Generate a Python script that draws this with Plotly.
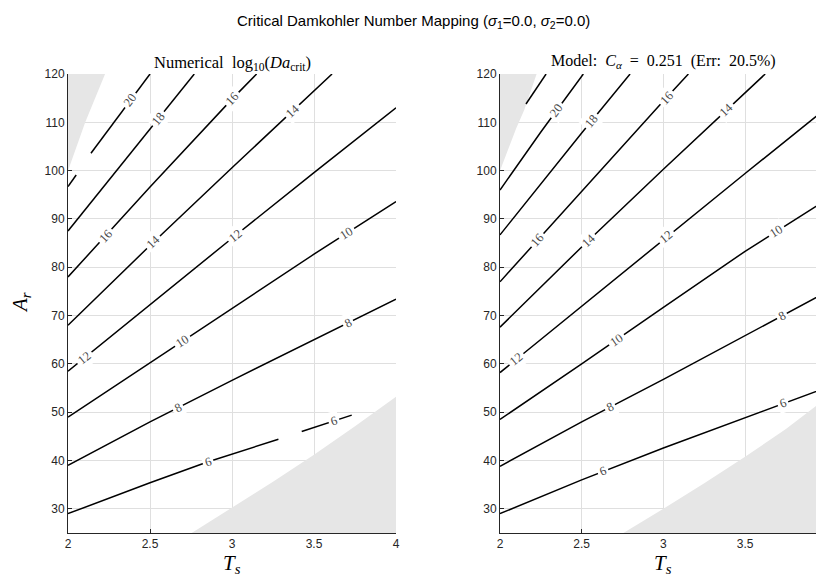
import math
import numpy as np
import plotly.graph_objects as go

# ---------------- data ----------------
TS_TICKS = [2, 2.5, 3, 3.5, 4]
TS_TICK_TEXT = ["2", "2.5", "3", "3.5", "4"]
AR_TICKS = [30, 40, 50, 60, 70, 80, 90, 100, 110, 120]
AR_TICK_TEXT = [str(v) for v in AR_TICKS]

# Numerical log10(Da_crit) contour lines (None = break in the line)
NUM_6_TS = [2.0, 2.5, 2.85, 3.283, None, 3.425, 3.73]
NUM_6_AR = [29.0, 35.4, 39.7, 44.4, None, 46.0, 49.4]
NUM_8_TS = [2.0, 2.5, 3.0, 3.5, 4.0]
NUM_8_AR = [39.0, 48.0, 56.6, 65.0, 73.4]
NUM_10_TS = [2.0, 2.5, 3.0, 3.5, 4.0]
NUM_10_AR = [49.0, 60.2, 71.5, 82.7, 93.6]
NUM_12_TS = [2.0, 2.5, 3.0, 3.5, 4.0]
NUM_12_AR = [58.5, 72.3, 86.0, 99.6, 113.0]
NUM_14_TS = [2.0, 2.5, 3.0, 3.5, 3.61]
NUM_14_AR = [68.0, 84.5, 100.6, 116.5, 120.0]
NUM_16_TS = [2.0, 2.5, 3.0, 3.15]
NUM_16_AR = [78.0, 96.6, 114.8, 120.0]
NUM_18_TS = [2.0, 2.5, 2.77]
NUM_18_AR = [87.5, 108.6, 120.0]
NUM_20_TS = [2.0, 2.05, None, 2.14, 2.5]
NUM_20_AR = [96.7, 99.1, None, 103.6, 120.0]

NUM_LEVELS = [6, 8, 10, 12, 14, 16, 18, 20]
NUM_LINES_TS = [NUM_6_TS, NUM_8_TS, NUM_10_TS, NUM_12_TS, NUM_14_TS, NUM_16_TS, NUM_18_TS, NUM_20_TS]
NUM_LINES_AR = [NUM_6_AR, NUM_8_AR, NUM_10_AR, NUM_12_AR, NUM_14_AR, NUM_16_AR, NUM_18_AR, NUM_20_AR]
NUM_LABEL_TS = [[2.854, 3.62], [2.67, 3.71], [2.70, 3.70], [2.10, 3.02],
                [2.52, 3.37], [2.23, 3.0], [2.55], [2.38]]

# Model contour lines
MOD_6_TS = [2.0, 2.5, 3.0, 3.5, 4.0]
MOD_6_AR = [29.0, 36.0, 42.6, 48.9, 55.1]
MOD_8_TS = [2.0, 2.5, 3.0, 3.5, 4.0]
MOD_8_AR = [38.8, 48.0, 56.8, 65.8, 74.9]
MOD_10_TS = [2.0, 2.5, 3.0, 3.5, 4.0]
MOD_10_AR = [48.5, 60.0, 71.7, 83.3, 94.0]
MOD_12_TS = [2.0, 2.5, 3.0, 3.5, 4.0]
MOD_12_AR = [58.2, 72.0, 85.8, 99.4, 113.0]
MOD_14_TS = [2.0, 2.5, 3.0, 3.5, 3.623]
MOD_14_AR = [67.6, 84.2, 100.3, 116.2, 120.0]
MOD_16_TS = [2.0, 2.5, 3.0, 3.153]
MOD_16_AR = [77.0, 95.8, 114.4, 120.0]
MOD_18_TS = [2.0, 2.5, 2.796]
MOD_18_AR = [86.7, 107.8, 120.0]
MOD_20_TS = [2.0, 2.25, 2.51]
MOD_20_AR = [96.0, 108.0, 120.0]
MOD_22_TS = [2.159, 2.282]
MOD_22_AR = [113.8, 120.0]

MOD_LEVELS = [6, 8, 10, 12, 14, 16, 18, 20, 22]
MOD_LINES_TS = [MOD_6_TS, MOD_8_TS, MOD_10_TS, MOD_12_TS, MOD_14_TS, MOD_16_TS, MOD_18_TS, MOD_20_TS, MOD_22_TS]
MOD_LINES_AR = [MOD_6_AR, MOD_8_AR, MOD_10_AR, MOD_12_AR, MOD_14_AR, MOD_16_AR, MOD_18_AR, MOD_20_AR, MOD_22_AR]
MOD_LABEL_TS = [[2.633, 3.735], [2.674, 3.725], [2.714, 3.694], [2.10, 3.016],
                [2.54, 3.384], [2.229, 3.02], [2.56], [2.347], []]

# Invalid (NaN) regions, shown in light gray
NUM_NAN_TOP_TS = [2.0, 2.105, 2.226, 2.0]
NUM_NAN_TOP_AR = [100.0, 110.0, 120.0, 120.0]
NUM_NAN_BOT_TS = [2.754, 3.0, 3.25, 3.5, 3.75, 4.0, 4.0]
NUM_NAN_BOT_AR = [25.0, 30.3, 35.6, 41.2, 47.1, 53.2, 25.0]
MOD_NAN_TOP_TS = [2.0, 2.05, 2.10, 2.149, 2.224, 2.0]
MOD_NAN_TOP_AR = [100.0, 104.5, 108.8, 112.6, 120.0, 120.0]
MOD_NAN_BOT_TS = [2.755, 3.0, 3.25, 3.5, 3.75, 4.0, 4.0]
MOD_NAN_BOT_AR = [25.0, 30.0, 35.3, 40.8, 46.5, 53.0, 25.0]

# ---------------- layout geometry ----------------
# The page body has an 8 px margin, so the figure starts at (8, 8).
OFF = 8
W, H = 824 - OFF, 578 - OFF


def fx(px):
    return (px - OFF) / W


def fy(py):
    return 1 - (py - OFF) / H


X1_DOM = [fx(68), fx(396)]
X2_DOM = [fx(500), 1.0]
Y_DOM = [fy(533), fy(74)]
X1_RANGE = [2, 4]
X2_RANGE = [2, 3.983]
Y_RANGE = [25, 120]

AX_COLOR = "#262626"
GRID_COLOR = "#dfdfdf"
NAN_COLOR = "#e6e6e6"
SANS = "Liberation Sans, Arial, sans-serif"
SERIF = "Liberation Serif, Times New Roman, serif"

fig = go.Figure()


def add_panel(lines_ts, lines_ar, nan_sets, xa, ya):
    for ts, ar in nan_sets:
        fig.add_trace(go.Scatter(x=ts, y=ar, mode="lines", fill="toself",
                                 fillcolor=NAN_COLOR, line=dict(width=0, color=NAN_COLOR),
                                 hoverinfo="skip", showlegend=False, xaxis=xa, yaxis=ya))
    for ts, ar in zip(lines_ts, lines_ar):
        fig.add_trace(go.Scatter(x=ts, y=ar, mode="lines", connectgaps=False,
                                 line=dict(color="black", width=1.5),
                                 hoverinfo="skip", showlegend=False, xaxis=xa, yaxis=ya))


add_panel(NUM_LINES_TS, NUM_LINES_AR,
          [(NUM_NAN_TOP_TS, NUM_NAN_TOP_AR), (NUM_NAN_BOT_TS, NUM_NAN_BOT_AR)], "x", "y")
add_panel(MOD_LINES_TS, MOD_LINES_AR,
          [(MOD_NAN_TOP_TS, MOD_NAN_TOP_AR), (MOD_NAN_BOT_TS, MOD_NAN_BOT_AR)], "x2", "y2")


def segments(ts, ar):
    segs, cur_t, cur_a = [], [], []
    for t, a in zip(ts, ar):
        if t is None:
            if cur_t:
                segs.append((cur_t, cur_a))
            cur_t, cur_a = [], []
        else:
            cur_t.append(t)
            cur_a.append(a)
    if cur_t:
        segs.append((cur_t, cur_a))
    return segs


annotations = []


def add_labels(levels, lines_ts, lines_ar, label_ts, xdom, xrange, xref, yref):
    px_x = (xdom[1] - xdom[0]) * W / (xrange[1] - xrange[0])
    px_y = (Y_DOM[1] - Y_DOM[0]) * H / (Y_RANGE[1] - Y_RANGE[0])
    for lev, ts, ar, lts in zip(levels, lines_ts, lines_ar, label_ts):
        segs = segments(ts, ar)
        for t0 in lts:
            for st, sa in segs:
                if st[0] <= t0 <= st[-1]:
                    a0 = float(np.interp(t0, st, sa))
                    i = max(1, int(np.searchsorted(st, t0)))
                    i = min(i, len(st) - 1)
                    dt = (st[i] - st[i - 1]) * px_x
                    da = (sa[i] - sa[i - 1]) * px_y
                    ang = -math.degrees(math.atan2(da, dt))
                    annotations.append(dict(
                        x=t0, y=a0, xref=xref, yref=yref, text=str(lev), showarrow=False,
                        textangle=ang, bgcolor="white", borderpad=2,
                        font=dict(family=SERIF, size=12.5, color="#4a4a4a"),
                        xanchor="center", yanchor="middle"))
                    break


add_labels(NUM_LEVELS, NUM_LINES_TS, NUM_LINES_AR, NUM_LABEL_TS, X1_DOM, X1_RANGE, "x", "y")
add_labels(MOD_LEVELS, MOD_LINES_TS, MOD_LINES_AR, MOD_LABEL_TS, X2_DOM, X2_RANGE, "x2", "y2")


def page_note(px, py, text, font, angle=0):
    annotations.append(dict(x=fx(px), y=fy(py), xref="paper", yref="paper", showarrow=False,
                            text=text, font=font, textangle=angle,
                            xanchor="center", yanchor="middle"))


page_note(413, 22,
          "Critical Damkohler Number Mapping (<i>σ</i><sub>1</sub>=0.0, <i>σ</i><sub>2</sub>=0.0)",
          dict(family=SANS, size=15, color="black"))
page_note(232, 63, "Numerical  log<sub>10</sub>(<i>Da</i><sub>crit</sub>)",
          dict(family=SERIF, size=16.5, color="black"))
page_note(663, 62, "Model:  <i>C<sub>α</sub></i>  =  0.251  (Err:  20.5%)",
          dict(family=SERIF, size=16, color="black"))
for cx in (232, 663):
    page_note(cx, 564, "<i>T<sub>s</sub></i>", dict(family=SERIF, size=21, color="black"))
page_note(21, 303, "<i>A<sub>r</sub></i>", dict(family=SERIF, size=21, color="black"), angle=-90)

common_x = dict(tickmode="array", tickvals=TS_TICKS, ticktext=TS_TICK_TEXT,
                showgrid=True, gridcolor=GRID_COLOR, gridwidth=1,
                showline=True, linecolor=AX_COLOR, linewidth=1, mirror=False,
                ticks="inside", ticklen=4, tickcolor=AX_COLOR, tickwidth=1,
                tickfont=dict(family=SANS, size=12, color=AX_COLOR),
                zeroline=False, layer="below traces", fixedrange=True)
common_y = dict(tickmode="array", tickvals=AR_TICKS, ticktext=AR_TICK_TEXT, range=Y_RANGE,
                showgrid=True, gridcolor=GRID_COLOR, gridwidth=1,
                showline=True, linecolor=AX_COLOR, linewidth=1, mirror=False,
                ticks="inside", ticklen=4, tickcolor=AX_COLOR, tickwidth=1,
                tickfont=dict(family=SANS, size=12, color=AX_COLOR),
                zeroline=False, layer="below traces", fixedrange=True)

fig.update_layout(
    template="none",
    width=W, height=H,
    margin=dict(l=0, r=0, t=0, b=0, pad=0),
    paper_bgcolor="white", plot_bgcolor="white",
    showlegend=False,
    xaxis=dict(domain=X1_DOM, range=X1_RANGE, anchor="y", **common_x),
    yaxis=dict(domain=Y_DOM, anchor="x", **common_y),
    xaxis2=dict(domain=X2_DOM, range=X2_RANGE, anchor="y2", **common_x),
    yaxis2=dict(domain=Y_DOM, anchor="x2", **common_y),
    annotations=annotations,
)

fig.write_html("out.html")
